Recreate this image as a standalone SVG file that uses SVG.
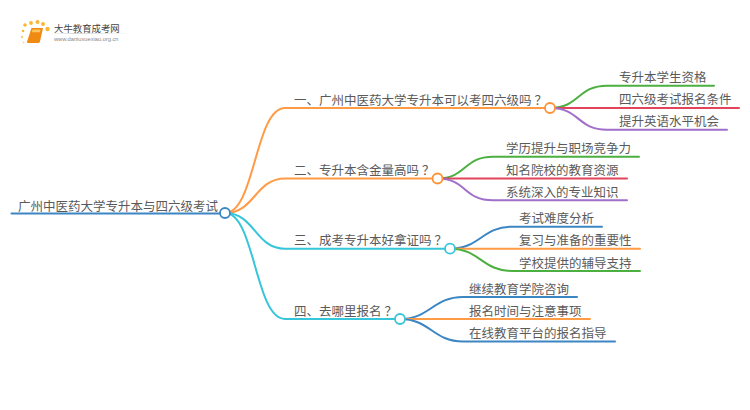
<svg xmlns="http://www.w3.org/2000/svg" width="750" height="410" viewBox="0 0 750 410">
<defs><linearGradient id="fade"><stop offset="0" stop-color="#ccc" stop-opacity="0"/><stop offset=".3" stop-color="#ccc"/><stop offset="1" stop-color="#ccc" stop-opacity="0"/></linearGradient></defs>
<style>
text{font-family:"Noto Sans CJK SC","Liberation Sans",sans-serif;font-size:12.5px;fill:#5a5a5a}
.c{fill:none;stroke-width:2;stroke-linecap:round}
.o{stroke:#ff9a45}.t{stroke:#37c5d9}.b{stroke:#3c86c4}.g{stroke:#4cb040}.r{stroke:#e2445c}.p{stroke:#a06fc9}
.n{fill:#fff;stroke-width:1.800}
</style>
<rect width="750" height="410" fill="#fff"/>
<g id="logo">
<g fill="#f9b732"><circle cx="25" cy="25" r="1.800"/><circle cx="23" cy="31" r="1.300"/><circle cx="31" cy="23" r="1.900"/><circle cx="37.500" cy="22" r="2"/><circle cx="43" cy="24" r="2"/><circle cx="47.500" cy="29" r="2.200"/><circle cx="22" cy="37" r="1.200" opacity=".7"/><circle cx="23.500" cy="42.500" r="1" opacity=".5"/></g>
<path d="M31.500 28h11.500l-3 13.500q-.5 1.500-2 1.500H28q-1.200 0-.9-1.500z" fill="#f08a12"/>
<path d="M32.500 29.500h8l-.6 2.800h-8z" fill="#fbc65a"/>
<text x="54" y="32" style="font-size:9.400px;fill:#444">大牛教育成考网</text>
<rect x="50" y="33" width="83" height=".8" fill="url(#fade)"/>
<text x="54" y="41" style="font-family:'Liberation Sans',sans-serif;font-size:5.700px;fill:#888">www.daniuxuexiao.org.cn</text>
</g>
<g id="connectors">
<path class="c b" d="M11.500 213.500H225"/>
<path class="c o" d="M225 213C255 213 255 108 285 108H550"/>
<path class="c o" d="M225 213C255 213 255 178.500 285 178.500H437"/>
<path class="c t" d="M225 213C255 213 255 248.700 285 248.700H450"/>
<path class="c t" d="M225 213C255 213 255 319 285 319H400"/>
<path class="c g" d="M550 108C580 108 577 85.700 607 85.700H714"/>
<path class="c r" d="M550 108H739"/>
<path class="c p" d="M550 108C580 108 577 129.700 607 129.700H727"/>
<path class="c g" d="M437 178.500C467 178.500 463 156.700 493 156.700H639"/>
<path class="c r" d="M437 178.500H627"/>
<path class="c p" d="M437 178.500C467 178.500 463 200.300 493 200.300H627"/>
<path class="c b" d="M450 248.700C480 248.700 482 226.700 512 226.700H602"/>
<path class="c o" d="M450 248.700H640"/>
<path class="c g" d="M450 248.700C480 248.700 482 271 512 271H640"/>
<path class="c b" d="M400 319C430 319 433 297 463 297H577"/>
<path class="c o" d="M400 319H590"/>
<path class="c b" d="M400 319C430 319 433 341.500 463 341.500H615"/>
</g>
<g id="root"><text x="18" y="210.500">广州中医药大学专升本与四六级考试</text><circle class="n" cx="225" cy="213" r="5" stroke="#3c86c4"/></g>
<g id="b1"><text x="294" y="104.500">一、广州中医药大学专升本可以考四六级吗<tspan dx="3">？</tspan></text><circle class="n" cx="550" cy="108" r="5" stroke="#ff9234"/></g>
<g id="b2"><text x="294" y="175">二、专升本含金量高吗<tspan dx="3">？</tspan></text><circle class="n" cx="437.500" cy="178.500" r="5" stroke="#ff9234"/></g>
<g id="b3"><text x="294" y="245">三、成考专升本好拿证吗<tspan dx="3">？</tspan></text><circle class="n" cx="450" cy="248.700" r="5" stroke="#37c5d9"/></g>
<g id="b4"><text x="294" y="315.500">四、去哪里报名<tspan dx="3">？</tspan></text><circle class="n" cx="400" cy="319" r="5" stroke="#37c5d9"/></g>
<g id="l11"><text x="619" y="82">专升本学生资格</text></g>
<g id="l12"><text x="619" y="104">四六级考试报名条件</text></g>
<g id="l13"><text x="619" y="126">提升英语水平机会</text></g>
<g id="l21"><text x="506" y="153">学历提升与职场竞争力</text></g>
<g id="l22"><text x="506" y="175">知名院校的教育资源</text></g>
<g id="l23"><text x="506" y="197">系统深入的专业知识</text></g>
<g id="l31"><text x="519" y="223">考试难度分析</text></g>
<g id="l32"><text x="519" y="245">复习与准备的重要性</text></g>
<g id="l33"><text x="519" y="267.500">学校提供的辅导支持</text></g>
<g id="l41"><text x="469" y="293.500">继续教育学院咨询</text></g>
<g id="l42"><text x="469" y="315.500">报名时间与注意事项</text></g>
<g id="l43"><text x="469" y="338">在线教育平台的报名指导</text></g>
</svg>
